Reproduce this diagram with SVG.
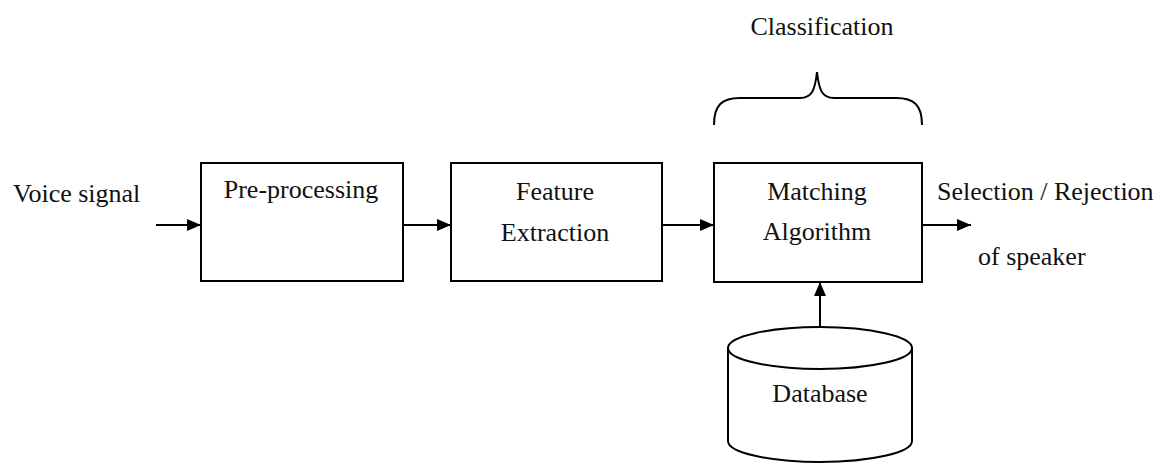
<svg xmlns="http://www.w3.org/2000/svg" width="1159" height="463" viewBox="0 0 1159 463">
<style>
.box{fill:#fff;stroke:#000;stroke-width:2}
.ln{fill:none;stroke:#000;stroke-width:2}
text{font-family:'Liberation Serif','DejaVu Serif','Times New Roman',serif;font-size:26px;fill:#111}
.c{text-anchor:middle}
</style>
<defs>
<marker id="ah" viewBox="0 0 14 12" refX="14" refY="6" markerWidth="14" markerHeight="12" markerUnits="userSpaceOnUse" orient="auto">
<path d="M0,0 L14,6 L0,12 Z" fill="#000"/>
</marker>
</defs>
<rect width="1159" height="463" fill="#fff"/>
<g id="voice-label"><text x="13" y="202" font-family="Liberation Serif, serif">Voice signal</text></g>
<g id="preprocessing"><rect class="box" x="201" y="163" width="202" height="118"/><text class="c" x="301" y="198">Pre-processing</text></g>
<g id="feature"><rect class="box" x="451" y="163" width="211" height="118"/><text class="c" x="555" y="200">Feature</text><text class="c" x="555" y="241">Extraction</text></g>
<g id="matching"><rect class="box" x="714" y="163" width="208" height="119"/><text class="c" x="817" y="200">Matching</text><text class="c" x="817" y="240">Algorithm</text></g>
<g id="classification"><path class="ln" d="M714,125 C714,105 722,98 740,98 L800,98 C812,98 815,90 817,72 C819,90 822,98 834,98 L896,98 C914,98 922,105 922,125"/><text class="c" x="822" y="35">Classification</text></g>
<g id="output-label"><text x="937" y="200">Selection / Rejection</text><text x="978" y="265">of speaker</text></g>
<g id="database"><path class="box" d="M728,348 L728,441 A92,21 0 0 0 912,441 L912,348"/><ellipse class="box" cx="820" cy="348" rx="92" ry="21"/><text class="c" x="820" y="402">Database</text></g>
<g id="connectors">
<line class="ln" x1="156" y1="225" x2="201" y2="225" marker-end="url(#ah)"/>
<line class="ln" x1="403" y1="225" x2="451" y2="225" marker-end="url(#ah)"/>
<line class="ln" x1="662" y1="225" x2="714" y2="225" marker-end="url(#ah)"/>
<line class="ln" x1="922" y1="225" x2="971" y2="225" marker-end="url(#ah)"/>
<line class="ln" x1="820" y1="327" x2="820" y2="282" marker-end="url(#ah)"/>
</g>
</svg>
